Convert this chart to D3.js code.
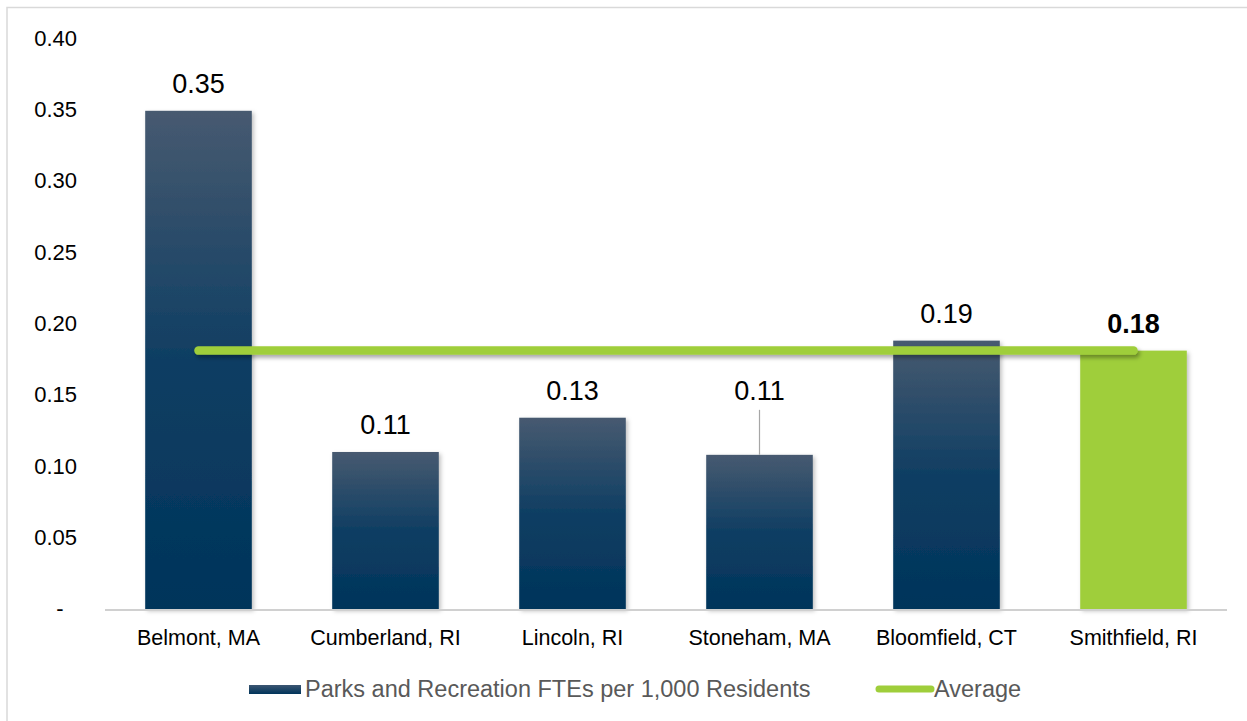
<!DOCTYPE html>
<html>
<head>
<meta charset="utf-8">
<script src="https://cdn.jsdelivr.net/npm/d3@7"></script>
<style>
  body { margin: 0; background: #fff; }
  svg { display: block; font-family: "Liberation Sans", Arial, sans-serif; }
</style>
</head>
<body>
<svg width="1247" height="721"></svg>
<script>
// chart data
var towns = ["Belmont, MA", "Cumberland, RI", "Lincoln, RI", "Stoneham, MA", "Bloomfield, CT", "Smithfield, RI"];
var ftes = [0.349, 0.110, 0.134, 0.108, 0.188, 0.181];
var labels = ["0.35", "0.11", "0.13", "0.11", "0.19", "0.18"];
var average = 0.181;
var yTicks = [0, 0.05, 0.10, 0.15, 0.20, 0.25, 0.30, 0.35, 0.40];
var seriesNames = ["Parks and Recreation FTEs per 1,000 Residents", "Average"];

var svg = d3.select("svg");

var navy = "#00345a", green = "#9fce3b";

var defs = svg.append("defs");
var grad = defs.append("linearGradient")
    .attr("id", "barGrad")
    .attr("x1", 0).attr("y1", 0).attr("x2", 0).attr("y2", 1);
grad.append("stop").attr("offset", "0%").attr("stop-color", "#475a70");
grad.append("stop").attr("offset", "50%").attr("stop-color", "#0f3e63");
grad.append("stop").attr("offset", "100%").attr("stop-color", navy);

var lgrad = defs.append("linearGradient")
    .attr("id", "legGrad")
    .attr("x1", 0).attr("y1", 0).attr("x2", 0).attr("y2", 1);
lgrad.append("stop").attr("offset", "0%").attr("stop-color", "#3c5672");
lgrad.append("stop").attr("offset", "100%").attr("stop-color", navy);

var shadow = defs.append("filter").attr("id", "shadow")
    .attr("x", "-10%").attr("y", "-10%").attr("width", "130%").attr("height", "130%");
shadow.append("feDropShadow")
    .attr("dx", 2).attr("dy", 2).attr("stdDeviation", 2)
    .attr("flood-color", "#000").attr("flood-opacity", 0.25);

// horizontal line has no height, so its filter region is set in user space
var lineShadow = defs.append("filter").attr("id", "lineShadow")
    .attr("filterUnits", "userSpaceOnUse")
    .attr("x", 0).attr("y", 0).attr("width", 1247).attr("height", 721);
lineShadow.append("feDropShadow")
    .attr("dx", 2).attr("dy", 3).attr("stdDeviation", 2)
    .attr("flood-color", "#000").attr("flood-opacity", 0.35);

// outer frame (only top and left visible)
svg.append("rect")
    .attr("x", 7).attr("y", 7.5)
    .attr("width", 1260).attr("height", 740)
    .attr("fill", "none")
    .attr("stroke", "#d9d9d9")
    .attr("stroke-width", 1.5);

var x = d3.scaleBand()
    .domain(towns)
    .range([105, 1227])
    .paddingInner(0.43)
    .paddingOuter(0.215);

var y = d3.scaleLinear()
    .domain([0, 0.40])
    .range([609, 38]);

// y axis labels
var yAxis = svg.append("g")
    .attr("transform", "translate(77,0)")
    .call(d3.axisLeft(y).tickValues(yTicks).tickSize(0).tickPadding(0)
        .tickFormat(function (d) { return d === 0 ? "" : d3.format(".2f")(d); }));
yAxis.select(".domain").remove();
yAxis.selectAll("text")
    .attr("font-size", 22)
    .attr("fill", "#000")
    .attr("font-family", "Liberation Sans, Arial, sans-serif");
svg.append("text")
    .attr("x", 60).attr("y", y(0))
    .attr("dy", "0.32em")
    .attr("text-anchor", "middle")
    .attr("font-size", 22)
    .text("-");

// bars
svg.append("g").selectAll("rect")
    .data(towns)
    .enter().append("rect")
    .attr("x", function (d) { return x(d); })
    .attr("y", function (d, i) { return y(ftes[i]); })
    .attr("width", x.bandwidth())
    .attr("height", function (d, i) { return y(0) - y(ftes[i]); })
    .attr("fill", function (d, i) { return i === towns.length - 1 ? green : "url(#barGrad)"; })
    .attr("filter", "url(#shadow)");

// x axis line
svg.append("line")
    .attr("x1", 105).attr("x2", 1227)
    .attr("y1", y(0) + 1).attr("y2", y(0) + 1)
    .attr("stroke", "#d0d0d0")
    .attr("stroke-width", 2);

// category labels
svg.append("g").selectAll("text")
    .data(towns)
    .enter().append("text")
    .attr("x", function (d) { return x(d) + x.bandwidth() / 2; })
    .attr("y", 645)
    .attr("text-anchor", "middle")
    .attr("font-size", 21.5)
    .attr("fill", "#000")
    .text(function (d) { return d; });

// average line
var first = towns[0], last = towns[towns.length - 1];
svg.append("line")
    .attr("x1", x(first) + x.bandwidth() / 2)
    .attr("x2", x(last) + x.bandwidth() / 2)
    .attr("y1", y(average)).attr("y2", y(average))
    .attr("stroke", green)
    .attr("stroke-width", 8.5)
    .attr("stroke-linecap", "round")
    .attr("filter", "url(#lineShadow)");

// data labels
svg.append("g").selectAll("text")
    .data(towns)
    .enter().append("text")
    .attr("x", function (d) { return x(d) + x.bandwidth() / 2; })
    .attr("y", function (d, i) {
        // Stoneham label is pulled up with a leader line
        return i === 3 ? y(ftes[i]) - 55 : y(ftes[i]) - 18;
    })
    .attr("text-anchor", "middle")
    .attr("font-size", 27)
    .attr("font-weight", function (d, i) { return i === towns.length - 1 ? "bold" : "normal"; })
    .attr("fill", "#000")
    .text(function (d, i) { return labels[i]; });

// leader line for Stoneham
var sx = x(towns[3]) + x.bandwidth() / 2;
svg.append("line")
    .attr("x1", sx).attr("x2", sx)
    .attr("y1", y(ftes[3]) - 45).attr("y2", y(ftes[3]))
    .attr("stroke", "#a6a6a6")
    .attr("stroke-width", 1.2);

// legend
var legend = svg.append("g");
legend.append("rect")
    .attr("x", 249).attr("y", 685)
    .attr("width", 52).attr("height", 9)
    .attr("fill", "url(#legGrad)");
legend.append("text")
    .attr("x", 305).attr("y", 697)
    .attr("font-size", 23.5)
    .attr("fill", "#595959")
    .text(seriesNames[0]);
legend.append("line")
    .attr("x1", 879).attr("x2", 931)
    .attr("y1", 689).attr("y2", 689)
    .attr("stroke", green)
    .attr("stroke-width", 7)
    .attr("stroke-linecap", "round");
legend.append("text")
    .attr("x", 934).attr("y", 697)
    .attr("font-size", 23.5)
    .attr("fill", "#595959")
    .text(seriesNames[1]);
</script>
</body>
</html>
